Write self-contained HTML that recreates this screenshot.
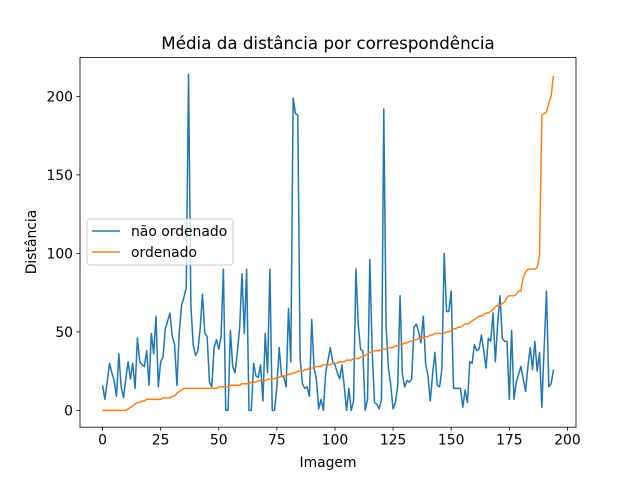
<!DOCTYPE html>
<html><head><meta charset="utf-8"><style>
body{margin:0;background:#fff;}
svg text{font-family:"DejaVu Sans","Liberation Sans",sans-serif;fill:#000;}
</style></head><body>
<svg id="chart" width="640" height="480" viewBox="0 0 640 480" xmlns="http://www.w3.org/2000/svg">
<rect width="640" height="480" fill="#fff"/>
<text x="328" y="49" font-size="16.7" text-anchor="middle">Média da distância por correspondência</text>
<g id="plot"></g>
<text x="328" y="467" font-size="13.9" text-anchor="middle">Imagem</text>
<text transform="translate(36,242) rotate(-90)" font-size="13.9" text-anchor="middle">Distância</text>
</svg>
<script>
const unsorted=[16,7,18,30,24,19,9,36,15,8,20,31,20,30,14,46,31,29,28,38,16,49,36,60,15,31,34,52,57,62,47,42,16,50,67,72,78,214,67,42,35,38,52,74,49,47,18,15,40,45,39,47,90,0,0,51,28,24,37,53,87,49,90,0,0,30,22,21,29,6,49,24,90,0,0,15,40,22,21,15,65,31,199,189,188,33,17,14,15,9,58,27,20,1,7,0,24,32,40,31,29,24,20,29,15,0,14,0,6,90,55,39,38,0,7,96,38,5,4,1,7,192,53,27,16,1,5,16,73,23,15,19,18,20,53,55,50,43,60,30,22,6,23,37,16,15,26,100,63,63,76,14,14,14,14,2,13,5,31,30,42,38,39,48,38,27,46,44,62,31,55,73,46,44,44,7,51,7,18,23,28,20,12,28,40,26,44,25,37,2,40,76,15,17,26];
const sorted=[0,0,0,0,0,0,0,0,0,0,0,1,2,3,4,5,5,6,6,7,7,7,7,7,7,7,8,8,8,8,9,9,11,12,13,14,14,14,14,14,14,14,14,14,14,14,14,14,14,14,15,15,15,15,15,16,16,16,16,16,17,17,17,17,18,18,18,19,19,19,19,20,20,20,20,21,21,22,22,22,23,23,24,24,25,25,25,26,26,27,27,27,28,28,28,29,29,29,29,30,30,30,31,31,31,32,32,32,33,33,33,34,34,35,36,37,37,38,38,38,39,39,39,40,40,40,41,41,42,42,43,43,44,44,45,45,46,46,46,47,47,48,48,49,49,49,49,49,50,50,51,52,52,53,53,54,55,55,56,57,58,59,60,60,61,62,62,63,64,66,67,67,68,69,72,73,73,73,74,76,76,85,88,90,90,90,90,91,99,188,189,190,196,200,213];
const xTicks=[0,25,50,75,100,125,150,175,200];
const yTicks=[0,50,100,150,200];
const seriesNames=["não ordenado","ordenado"];
const NS="http://www.w3.org/2000/svg";
const L=80,R=576,T=57.6,B=427.2;
const n=Math.max(unsorted.length,sorted.length);
const xr=n-1, xmin=-0.05*xr, xmax=xr*1.05;
const all=unsorted.concat(sorted);
const dmin=Math.min(...all), dmax=Math.max(...all), dr=dmax-dmin;
const ymin=dmin-0.05*dr, ymax=dmax+0.05*dr;
const sx=v=>L+(v-xmin)/(xmax-xmin)*(R-L);
const sy=v=>B-(v-ymin)/(ymax-ymin)*(B-T);
const g=document.getElementById('plot');
function mk(t,a){const e=document.createElementNS(NS,t);for(const k in a)e.setAttribute(k,a[k]);g.appendChild(e);return e;}
function line(data,color,name){
  const p=mk('polyline',{points:data.map((v,i)=>sx(i).toFixed(2)+','+sy(v).toFixed(2)).join(' '),fill:'none',stroke:color,'stroke-width':1.5,'stroke-linejoin':'round'});
  
  
}
line(unsorted,'#1f77b4','series-nao-ordenado');
line(sorted,'#ff7f0e','series-ordenado');
const fr=mk('rect',{x:L,y:T,width:R-L,height:B-T,fill:'none',stroke:'#000','stroke-width':0.8});


xTicks.forEach(t=>{
  const x=sx(t);
  const tk=mk('line',{x1:x,x2:x,y1:B,y2:B+3.5,stroke:'#000','stroke-width':0.8});
  
  
  const tx=mk('text',{x:x,y:B+17.5,'font-size':13.9,'text-anchor':'middle'});
  tx.textContent=t;
  
  
});
yTicks.forEach(t=>{
  const y=sy(t);
  const tk=mk('line',{x1:L-3.5,x2:L,y1:y,y2:y,stroke:'#000','stroke-width':0.8});
  
  
  const tx=mk('text',{x:L-7,y:y+5,'font-size':13.9,'text-anchor':'end'});
  tx.textContent=t;
  
  
});
const lg=mk('rect',{x:87,y:219,width:146,height:46,rx:3,fill:'#fff','fill-opacity':0.8,stroke:'#ccc','stroke-width':1});


const cols=['#1f77b4','#ff7f0e'];
seriesNames.forEach((s,i)=>{
  const y=231+i*21;
  const ln=mk('line',{x1:92,x2:120,y1:y,y2:y,stroke:cols[i],'stroke-width':1.5});
  
  
  const tx=mk('text',{x:131,y:y+5,'font-size':13.9});
  tx.textContent=s;
  
  
});
</script>
</body></html>
